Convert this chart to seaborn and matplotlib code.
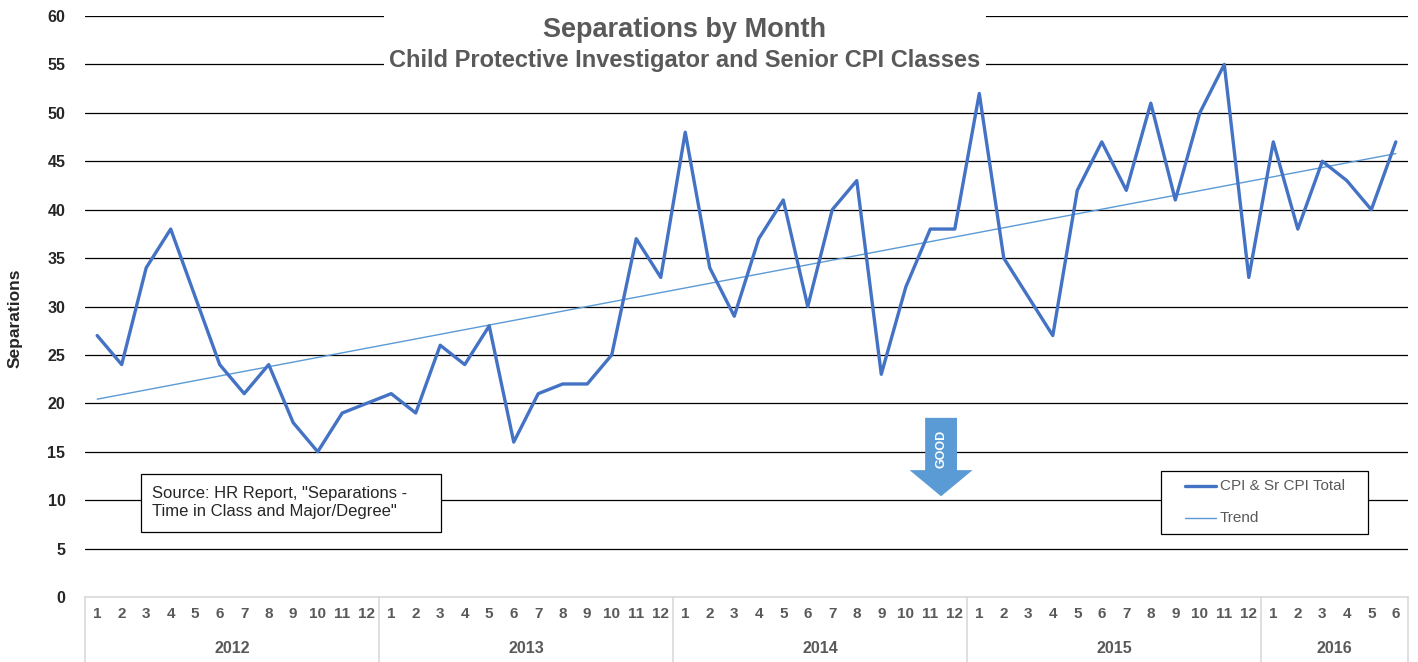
import numpy as np
import pandas as pd
import seaborn as sns
import matplotlib.pyplot as plt
from matplotlib.patches import FancyArrow
from matplotlib.lines import Line2D

# datos
years = ["2012", "2013", "2014", "2015", "2016"]
months_per_year = [12, 12, 12, 12, 6]
sep_2012 = [27, 24, 34, 38, 31, 24, 21, 24, 18, 15, 19, 20]
sep_2013 = [21, 19, 26, 24, 28, 16, 21, 22, 22, 25, 37, 33]
sep_2014 = [48, 34, 29, 37, 41, 30, 40, 43, 23, 32, 38, 38]
sep_2015 = [52, 35, 31, 27, 42, 47, 42, 51, 41, 50, 55, 33]
sep_2016 = [47, 38, 45, 43, 40, 47]
y_ticks = list(range(0, 65, 5))

values = sep_2012 + sep_2013 + sep_2014 + sep_2015 + sep_2016
month_labels = [str(m) for n in months_per_year for m in range(1, n + 1)]
idx = np.arange(1, len(values) + 1)

# linea de tendencia lineal (como en Excel)
coef = np.polyfit(idx, values, 1)
trend = np.polyval(coef, idx)

df = pd.DataFrame({"idx": idx, "value": values, "trend": trend})

sns.set_style("white")
plt.rcParams["font.family"] = ["Liberation Sans", "DejaVu Sans"]

fig = plt.figure(figsize=(14.18, 6.62), dpi=100)
ax = fig.add_axes([0.0599, 0.0982, 0.9331, 0.8776])

line_col = "#4472C4"
trend_col = "#5B9BD5"
title_col = "#595959"

for yv in y_ticks[1:]:
    ax.axhline(yv, color="black", lw=0.9, zorder=1)

sns.lineplot(data=df, x="idx", y="value", ax=ax, color=line_col, lw=2.4, zorder=4)
sns.lineplot(data=df, x="idx", y="trend", ax=ax, color=trend_col, lw=1.0, zorder=3)

ax.set_xlim(0.5, len(values) + 0.5)
ax.set_ylim(0, 60)
ax.set_yticks(y_ticks)
ax.set_yticklabels([str(v) for v in y_ticks], fontsize=11.5, fontweight="bold")
ax.set_xticks(idx)
ax.set_xticklabels(month_labels, fontsize=11, fontweight="bold", color=title_col)
ax.tick_params(axis="both", length=0)
ax.tick_params(axis="x", pad=7)
ax.tick_params(axis="y", pad=14)
ax.set_xlabel("")
ax.set_ylabel("Separations", fontsize=12.5, fontweight="bold")
ax.yaxis.set_label_coords(-0.047, 0.48)

for s in ["top", "right", "left"]:
    ax.spines[s].set_visible(False)
ax.spines["bottom"].set_color("#d9d9d9")
ax.spines["bottom"].set_linewidth(1.2)

# separadores de anos y etiquetas
trans = ax.get_xaxis_transform()
start = 0.5
for yr, n in zip(years, months_per_year):
    ax.plot([start, start], [0, -0.115], transform=trans, color="#d9d9d9",
            lw=1.2, clip_on=False)
    ax.text(start + n / 2, -0.0895, yr, transform=trans, ha="center", va="center",
            fontsize=11.5, fontweight="bold", color=title_col)
    start += n
ax.plot([start, start], [0, -0.115], transform=trans, color="#d9d9d9",
        lw=1.2, clip_on=False)

# titulo
fig.text(0.4825, 0.954, "Separations by Month", ha="center", va="center",
         fontsize=19.5, fontweight="bold", color=title_col)
fig.text(0.4825, 0.909, "Child Protective Investigator and Senior CPI Classes",
         ha="center", va="center", fontsize=17, fontweight="bold", color=title_col,
         zorder=10)
ax.add_patch(plt.Rectangle((0.2264, 0.91), 0.4546, 0.12, transform=ax.transAxes,
                           facecolor="white", edgecolor="none", zorder=2,
                           clip_on=False))

# caja de fuente
ax.add_patch(plt.Rectangle((0.0423, 0.1119), 0.2267, 0.0998, transform=ax.transAxes,
                           facecolor="white", edgecolor="black", lw=0.9, zorder=5))
ax.text(0.0506, 0.1625,
        'Source: HR Report, "Separations -\nTime in Class and Major/Degree"',
        transform=ax.transAxes, ha="left", va="center", fontsize=12,
        linespacing=1.25, zorder=6)

# flecha GOOD
ax.add_patch(FancyArrow(35.44, 18.5, 0, -8.1, width=1.3, head_width=2.57,
                        head_length=2.7, length_includes_head=True,
                        facecolor=trend_col, edgecolor="none", zorder=5))
ax.text(35.44, 15.3, "GOOD", rotation=90, ha="center", va="center",
        fontsize=9, fontweight="bold", color="white", zorder=6)

# leyenda
ax.add_patch(plt.Rectangle((0.8133, 0.1084), 0.1565, 0.1084, transform=ax.transAxes,
                           facecolor="white", edgecolor="black", lw=0.9, zorder=5))
leg_items = [("CPI & Sr CPI Total", line_col, 2.4, 0.1910),
             ("Trend", trend_col, 1.0, 0.1360)]
for label, col, lw, yy in leg_items:
    ax.add_line(Line2D([0.8313, 0.8550], [yy, yy],
                       transform=ax.transAxes, color=col, lw=lw, zorder=6))
    ax.text(0.8578, yy, label, transform=ax.transAxes, ha="left", va="center",
            fontsize=11, color=title_col, zorder=6)

fig.savefig("out.png", dpi=100)
